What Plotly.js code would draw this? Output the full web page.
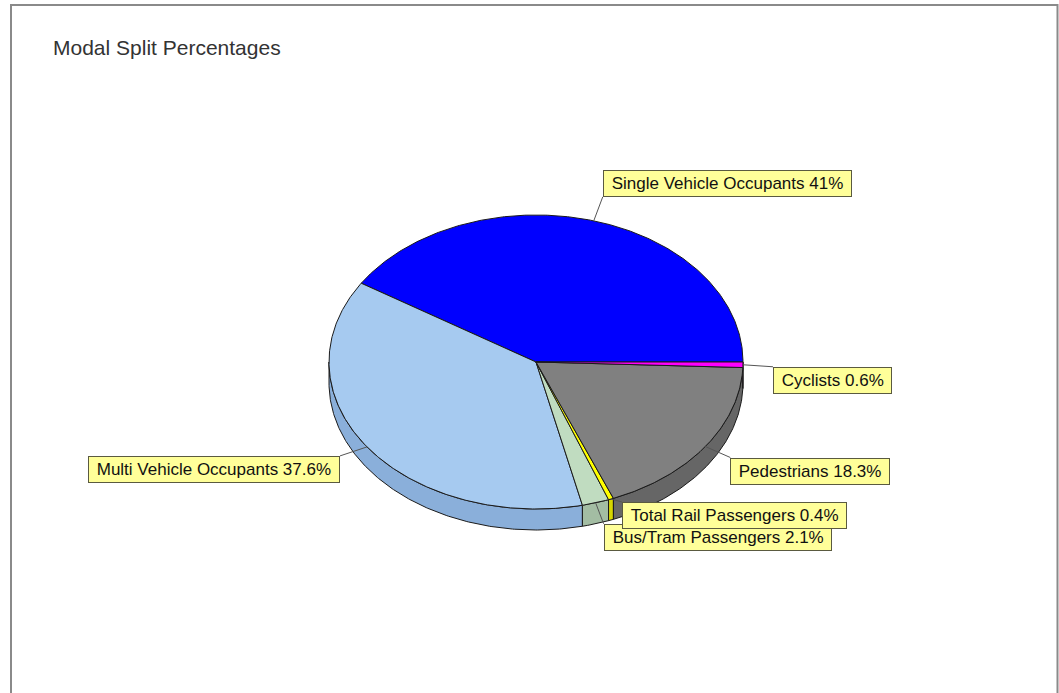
<!DOCTYPE html>
<html>
<head>
<meta charset="utf-8">
<script src="https://cdn.plot.ly/plotly-3.0.1.min.js"></script>
<style>
  html, body { margin: 0; padding: 0; background: #fff; }
  #chart { width: 1059px; height: 693px; }
</style>
</head>
<body>
<div id="chart"></div>
<script>
// ---- Data ----
const categories = [
  'Single Vehicle Occupants',
  'Multi Vehicle Occupants',
  'Bus/Tram Passengers',
  'Total Rail Passengers',
  'Pedestrians',
  'Cyclists'
];
const percentages = [41, 37.6, 2.1, 0.4, 18.3, 0.6];

// ---- Styles ----
const topColors  = ['#0000FF', '#A6CAF0', '#C0DCC0', '#FFFF00', '#808080', '#FF00FF'];
const sideColors = ['#0000B0', '#8AAFDA', '#A3BDA3', '#D6D600', '#666666', '#C000C0'];
// label box corner placement (pixels) relative to the slice edge point
const labelDX = [9, -27, 8, 11, 25, 30];
const labelDY = [-24, 9, 21, 3, 11, 2];
const labelXAnchor = ['left', 'right', 'left', 'left', 'left', 'left'];
const labelYAnchor = ['bottom', 'top', 'top', 'top', 'top', 'top'];

// ---- Geometry of the tilted pie (in the pixel-mapped axes) ----
const CX = 536, CY = 362, RX = 207, RY = 147, DEPTH = 21;

function pt(deg, dy) {
  const t = deg * Math.PI / 180;
  return [CX + RX * Math.cos(t), CY - RY * Math.sin(t) + (dy || 0)];
}
function arc(a1, a2, dy) {
  const pts = [];
  const n = Math.max(2, Math.ceil(Math.abs(a2 - a1) / 0.5) + 1);
  for (let i = 0; i < n; i++) pts.push(pt(a1 + (a2 - a1) * i / (n - 1), dy));
  return pts;
}

const total = percentages.reduce((a, b) => a + b, 0);
const starts = [], ends = [];
let acc = 0;
percentages.forEach(v => { starts.push(acc); acc += v / total * 360; ends.push(acc); });

const sideTraces = [], topTraces = [], leaderTraces = [], annotations = [];
const NB = '\u00a0';
categories.forEach((name, i) => {
  const a1 = starts[i], a2 = ends[i];
  // visible side wall (front half: 180..360 deg)
  const lo = Math.max(a1, 180), hi = Math.min(a2, 360);
  if (hi > lo) {
    const up = arc(lo, hi, 0), down = arc(hi, lo, DEPTH);
    const p = up.concat(down); p.push(up[0]);
    sideTraces.push({
      type: 'scatter', mode: 'lines', fill: 'toself',
      x: p.map(q => q[0]), y: p.map(q => q[1]),
      fillcolor: sideColors[i], line: { color: '#1a1a1a', width: 1 },
      hoverinfo: 'skip', showlegend: false
    });
  }
  // top face
  const a = arc(a1, a2, 0);
  const xs = [CX].concat(a.map(q => q[0]), [CX]);
  const ys = [CY].concat(a.map(q => q[1]), [CY]);
  topTraces.push({
    type: 'scatter', mode: 'lines', fill: 'toself',
    x: xs, y: ys, name: name,
    fillcolor: topColors[i], line: { color: '#1a1a1a', width: 1 },
    hoverinfo: 'name', showlegend: false
  });
  // label + leader line
  const m = pt((a1 + a2) / 2, 0);
  const bx = m[0] + labelDX[i], by = m[1] + labelDY[i];
  leaderTraces.push({
    type: 'scatter', mode: 'lines',
    x: [m[0], bx], y: [m[1], by],
    line: { color: '#555', width: 1 },
    hoverinfo: 'skip', showlegend: false
  });
  annotations.push({
    x: bx, y: by, xref: 'x', yref: 'y',
    xanchor: labelXAnchor[i], yanchor: labelYAnchor[i],
    text: NB + name + ' ' + percentages[i] + '%' + NB,
    showarrow: false,
    bgcolor: '#FFFF99', bordercolor: '#5a5a40', borderwidth: 1, borderpad: 3,
    font: { family: 'Liberation Sans, Arial, sans-serif', size: 17, color: '#111' }
  });
});

const layout = {
  width: 1059, height: 693,
  margin: { l: 0, r: 0, t: 0, b: 0 },
  paper_bgcolor: '#ffffff', plot_bgcolor: '#ffffff',
  xaxis: { range: [0, 1059], visible: false, fixedrange: true },
  yaxis: { range: [693, 0], visible: false, fixedrange: true },
  title: {
    text: 'Modal Split Percentages',
    x: 53 / 1059, xanchor: 'left', xref: 'paper',
    y: 1 - 48 / 693, yanchor: 'middle', yref: 'paper',
    font: { family: 'Liberation Sans, Arial, sans-serif', size: 21, color: '#333' }
  },
  shapes: [{
    type: 'rect', xref: 'paper', yref: 'paper',
    x0: 11 / 1059, x1: 1057.5 / 1059, y0: -0.05, y1: 1 - 5 / 693,
    line: { color: '#8a8a8a', width: 2 }
  }],
  annotations: annotations,
  showlegend: false,
  hovermode: 'closest'
};

Plotly.newPlot('chart', sideTraces.concat(topTraces, leaderTraces), layout, { displayModeBar: false });
</script>
</body>
</html>
